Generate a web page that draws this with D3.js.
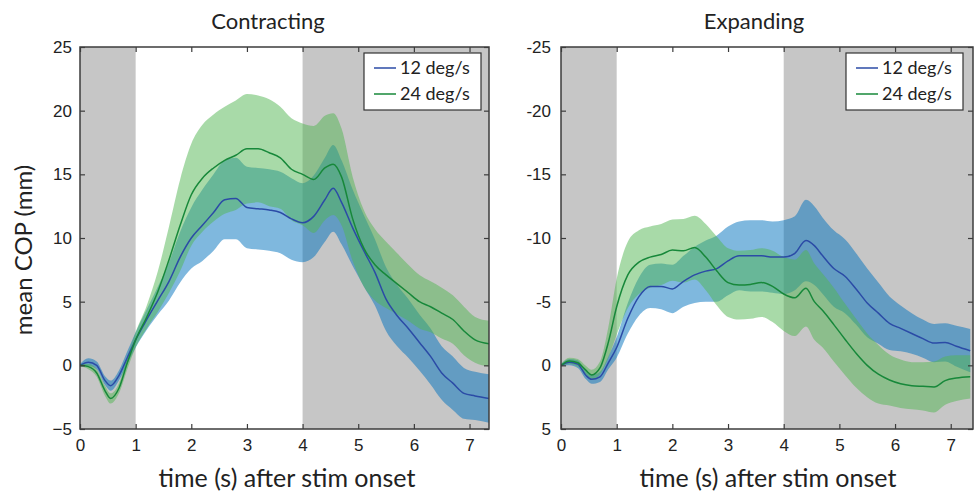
<!DOCTYPE html>
<html>
<head>
<meta charset="utf-8">
<script src="https://cdn.jsdelivr.net/npm/d3@7"></script>
<style>
  body { margin: 0; background: white; }
  svg { display: block; font-family: Lato, "Open Sans", sans-serif; }
</style>
</head>
<body>
<svg id="chart" width="976" height="491"></svg>
<script>
// time samples (s) shared by all series
const timePoints = [0, 0.15, 0.3, 0.45, 0.55, 0.7, 0.85, 1.0, 1.2, 1.4, 1.6, 1.8, 2.0, 2.2, 2.4, 2.6, 2.8, 3.0, 3.2, 3.4,
    3.6, 3.8, 4.0, 4.2, 4.4, 4.55, 4.7, 4.9, 5.1, 5.3, 5.5, 5.7, 5.9, 6.1, 6.3, 6.5, 6.7, 6.9, 7.1, 7.35];

// Contracting: mean COP and band half-width
const contractMean12 = [0, 0.25, 0.0, -1.2, -1.6, -0.8, 0.6, 2.0, 3.6, 5.1, 6.6, 8.5, 10.0, 11.0, 12.0, 13.0, 13.1, 12.4, 12.3, 12.2,
    12.0, 11.5, 11.2, 11.7, 13.0, 13.9, 12.8, 10.8, 9.0, 7.3, 5.2, 3.9, 2.9, 1.8, 0.7, -0.6, -1.4, -2.2, -2.4, -2.6];
const contractErr12 = [0.1, 0.3, 0.3, 0.35, 0.4, 0.4, 0.5, 0.6, 0.8, 1.1, 1.5, 2.0, 2.4, 2.8, 3.0, 3.1, 3.2, 3.2, 3.2, 3.2,
    3.2, 3.2, 3.1, 3.2, 3.3, 3.4, 3.3, 3.0, 2.8, 2.6, 2.5, 2.4, 2.3, 2.2, 2.2, 2.1, 2.1, 2.0, 1.9, 1.9];
const contractMean24 = [0, -0.1, -0.6, -2.0, -2.6, -1.8, 0.2, 2.0, 3.8, 5.8, 8.3, 11.0, 13.4, 14.7, 15.5, 16.1, 16.5, 17.0, 17.0, 16.7,
    16.3, 15.4, 15.0, 14.6, 15.5, 15.8, 14.8, 11.5, 9.2, 7.9, 7.1, 6.4, 5.7, 5.0, 4.6, 4.1, 3.6, 2.7, 2.0, 1.7];
const contractErr24 = [0.1, 0.2, 0.3, 0.4, 0.4, 0.4, 0.5, 0.6, 0.9, 1.6, 2.6, 3.6, 4.0, 4.2, 4.2, 4.2, 4.3, 4.3, 4.2, 4.2,
    4.0, 4.0, 4.0, 4.2, 4.1, 4.0, 3.8, 3.3, 3.0, 2.8, 2.6, 2.4, 2.2, 2.1, 2.0, 2.0, 1.9, 1.9, 1.8, 1.8];

// Expanding
const expandMean12 = [0, -0.25, -0.1, 0.8, 1.1, 0.9, -0.2, -1.4, -3.7, -5.4, -6.2, -6.2, -6.0, -6.6, -7.1, -7.4, -7.6, -8.2, -8.6, -8.6,
    -8.6, -8.5, -8.5, -8.8, -9.8, -9.4, -8.6, -7.6, -7.0, -6.0, -4.9, -4.1, -3.3, -2.9, -2.5, -2.1, -1.75, -1.8, -1.5, -1.15];
const expandErr12 = [0.1, 0.25, 0.3, 0.3, 0.35, 0.4, 0.5, 0.8, 1.2, 1.5, 1.7, 1.8, 1.9, 2.0, 2.2, 2.4, 2.6, 2.7, 2.7, 2.8,
    2.8, 2.8, 2.9, 2.9, 3.2, 3.1, 3.0, 3.0, 2.9, 2.8, 2.7, 2.4, 2.1, 1.8, 1.6, 1.5, 1.5, 1.5, 1.6, 1.7];
const expandMean24 = [0, -0.35, -0.2, 0.4, 0.75, 0.2, -1.8, -4.6, -7.1, -8.1, -8.5, -8.7, -9.05, -9.0, -9.25, -8.5, -7.4, -6.5, -6.3, -6.35,
    -6.5, -6.2, -5.6, -5.3, -6.05, -5.0, -4.3, -3.2, -2.05, -0.95, 0.0, 0.7, 1.15, 1.45, 1.6, 1.65, 1.7, 1.2, 1.0, 0.9];
const expandErr24 = [0.1, 0.25, 0.3, 0.35, 0.4, 0.5, 1.2, 2.2, 2.6, 2.5, 2.4, 2.4, 2.4, 2.5, 2.5, 2.6, 2.7, 2.7, 2.7, 2.7,
    2.7, 2.8, 2.9, 3.0, 3.0, 3.0, 2.9, 2.9, 2.8, 2.7, 2.5, 2.3, 2.0, 1.9, 1.85, 1.9, 2.0, 1.9, 1.8, 1.7];

const seriesNames = ["12 deg/s", "24 deg/s"];
const xTicks = [0, 1, 2, 3, 4, 5, 6, 7];
const contractTicksY = [-5, 0, 5, 10, 15, 20, 25];
const expandTicksY = [5, 0, -5, -10, -15, -20, -25];
const stimOff = [[0, 1], [4, 7.4]]; // gray spans (no stimulus)

const fillColors = ["rgb(0,114,189)", "rgb(81,181,81)"];
const lineColors = ["#2b4ba6", "#17883a"];

const svg = d3.select("#chart");

function drawPanel(opt) {
    const x = d3.scaleLinear().domain(opt.xDomain).range(opt.xRange);
    const y = d3.scaleLinear().domain(opt.yDomain).range([429, 47]);
    const [x0, x1] = opt.xRange;

    const g = svg.append("g");
    const clipId = "clip-" + opt.id;
    g.append("clipPath").attr("id", clipId)
        .append("rect")
        .attr("x", x0).attr("y", 47)
        .attr("width", x1 - x0).attr("height", 429 - 47);

    const plot = g.append("g").attr("clip-path", `url(#${clipId})`);

    //gray spans
    plot.selectAll("rect.off")
        .data(stimOff)
        .join("rect")
        .attr("class", "off")
        .attr("x", d => x(d[0]))
        .attr("y", 47)
        .attr("width", d => x(d[1]) - x(d[0]))
        .attr("height", 429 - 47)
        .attr("fill", "#c6c6c6");

    const area = (m, e) => d3.area()
        .x((d, i) => x(timePoints[i]))
        .y0((d, i) => y(m[i] - e[i]))
        .y1((d, i) => y(m[i] + e[i]))
        .curve(d3.curveMonotoneX)(timePoints);

    const line = (m) => d3.line()
        .x((d, i) => x(timePoints[i]))
        .y((d, i) => y(m[i]))
        .curve(d3.curveMonotoneX)(timePoints);

    opt.series.forEach((s, k) => {
        plot.append("path")
            .attr("d", area(s.mean, s.err))
            .attr("fill", fillColors[k])
            .attr("fill-opacity", 0.5);
    });
    opt.series.forEach((s, k) => {
        plot.append("path")
            .attr("d", line(s.mean))
            .attr("fill", "none")
            .attr("stroke", lineColors[k])
            .attr("stroke-width", 1.5);
    });

    //axes, ticks inward on all sides
    const axisColor = "#3c3c3c";
    g.append("g").attr("transform", "translate(0,429)")
        .call(d3.axisBottom(x).tickValues(xTicks).tickSize(-5).tickPadding(10).tickFormat(d3.format("d")));
    g.append("g").attr("transform", "translate(0,47)")
        .call(d3.axisTop(x).tickValues(xTicks).tickSize(-5).tickFormat(""));
    g.append("g").attr("transform", `translate(${x0},0)`)
        .call(d3.axisLeft(y).tickValues(opt.yTicks).tickSize(-5).tickPadding(opt.yPad).tickFormat(opt.yFormat));
    g.append("g").attr("transform", `translate(${x1},0)`)
        .call(d3.axisRight(y).tickValues(opt.yTicks).tickSize(-5).tickFormat(""));

    g.selectAll(".domain").remove();
    g.selectAll(".tick line").attr("stroke", axisColor).attr("stroke-width", 1.2);
    g.selectAll(".tick text").attr("fill", "#222").style("font-size", "17px");

    g.append("rect")
        .attr("x", x0).attr("y", 47)
        .attr("width", x1 - x0).attr("height", 429 - 47)
        .attr("fill", "none")
        .attr("stroke", axisColor)
        .attr("stroke-width", 1.5);

    //title and x label
    g.append("text")
        .attr("x", opt.titleX).attr("y", 29)
        .attr("text-anchor", "middle")
        .style("font-size", "22px")
        .attr("fill", "#222")
        .text(opt.title);
    g.append("text")
        .attr("x", opt.xLabelX).attr("y", 487)
        .attr("text-anchor", "middle")
        .style("font-size", "25px")
        .attr("fill", "#222")
        .text("time (s) after stim onset");

    //legend
    const lx = x1 - opt.legendRight - 117, ly = 53;
    const lg = g.append("g").attr("transform", `translate(${lx},${ly})`);
    lg.append("rect")
        .attr("width", 117).attr("height", 57)
        .attr("fill", "white")
        .attr("stroke", "#333")
        .attr("stroke-width", 1.2);
    seriesNames.forEach((name, k) => {
        const cy = 15 + k * 26;
        lg.append("line")
            .attr("x1", 10).attr("x2", 32)
            .attr("y1", cy).attr("y2", cy)
            .attr("stroke", lineColors[k])
            .attr("stroke-width", 1.5);
        lg.append("text")
            .attr("x", 36).attr("y", cy + 6)
            .style("font-size", "18px")
            .attr("fill", "#222")
            .text(name);
    });
}

drawPanel({
    id: "contract",
    title: "Contracting",
    titleX: 268,
    xLabelX: 287,
    xDomain: [0, 7.35],
    xRange: [80, 489],
    yDomain: [-5, 25],
    yTicks: contractTicksY,
    yPad: 8,
    yFormat: d => d < 0 ? "\u2212" + Math.abs(d) : String(d),
    legendRight: 8,
    series: [
        { mean: contractMean12, err: contractErr12 },
        { mean: contractMean24, err: contractErr24 }
    ]
});

drawPanel({
    id: "expand",
    title: "Expanding",
    titleX: 754,
    xLabelX: 768,
    xDomain: [0, 7.4],
    xRange: [561, 973],
    yDomain: [5, -25],
    yTicks: expandTicksY,
    yPad: 10,
    yFormat: d => String(d),
    legendRight: 10,
    series: [
        { mean: expandMean12, err: expandErr12 },
        { mean: expandMean24, err: expandErr24 }
    ]
});

//shared y label
svg.append("text")
    .attr("transform", "translate(32,250) rotate(-90)")
    .attr("text-anchor", "middle")
    .style("font-size", "24px")
    .attr("fill", "#222")
    .text("mean COP (mm)");
</script>
</body>
</html>
